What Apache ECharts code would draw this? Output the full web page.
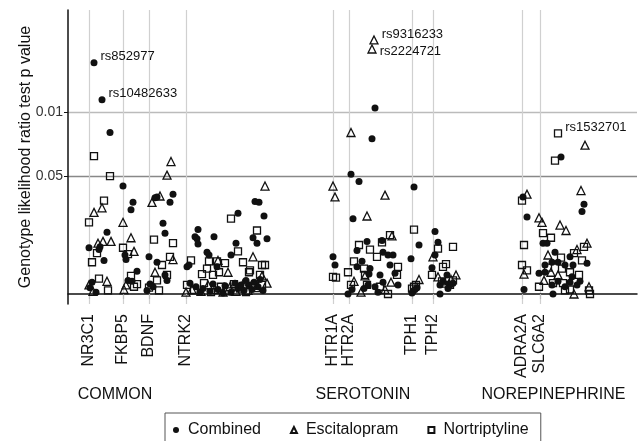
<!DOCTYPE html>
<html>
<head>
<meta charset="utf-8">
<script src="https://cdn.jsdelivr.net/npm/echarts@6/dist/echarts.min.js"></script>
<style>
  html, body { margin: 0; background: #fff; }
  #stage { width: 639px; height: 441px; }
</style>
</head>
<body>
<div id="stage"></div>
<script>
'use strict';

// genes along the x axis (position units) and the pathway groups under them
const GENES = ['NR3C1', 'FKBP5', 'BDNF', 'NTRK2', 'HTR1A', 'HTR2A', 'TPH1', 'TPH2', 'ADRA2A', 'SLC6A2'];
const genePos = [21, 55, 81, 118, 265, 281, 344, 365, 454, 472];
const GROUPS = ['COMMON', 'SEROTONIN', 'NOREPINEPHRINE'];
const groupPos = [47, 295, 485.5];

// y is -log10(p); only two p values are marked
const pTicks = [1.301, 2];
const pTickLabels = ['0.05', '0.01'];

// [position, -log10 p]; the first points of each list carry the SNP names below
const combined = [
  [26, 2.55], [34, 2.14],
  [42, 1.78], [39, 0.68], [21, 0.51], [31, 0.49], [32, 0.52], [36, 0.37], [24, 0.13], [22, 0.07], [28, 0.02],
  [55, 1.19], [65, 1.01], [63, 0.93], [57, 0.43], [58, 0.38], [69, 0.25], [60, 0.15], [64, 0.14],
  [87, 1.06], [89, 1.07], [105, 1.10], [102, 1.01], [95, 0.78], [97, 0.67], [81, 0.41], [89, 0.35], [97, 0.21],
  [82, 0.11], [85, 0.08], [99, 0.15], [79, 0.04],
  [130, 0.71], [127, 0.63], [129, 0.61], [146, 0.63], [170, 0.89], [187, 1.02], [185, 0.62], [130, 0.55],
  [168, 0.56], [139, 0.46], [141, 0.43], [163, 0.43], [119, 0.30], [121, 0.32], [149, 0.30], [191, 1.01],
  [196, 0.86], [199, 0.61], [189, 0.56], [195, 0.04], [122, 0.12], [128, 0.08], [135, 0.06], [142, 0.03],
  [150, 0.05], [157, 0.09], [163, 0.02], [170, 0.06], [176, 0.04], [181, 0.10], [186, 0.13], [190, 0.08],
  [145, 0.11], [132, 0.02], [167, 0.12], [178, 0.15], [184, 0.05], [192, 0.16], [155, 0.01], [173, 0.10],
  [265, 0.41], [267, 0.32],
  [307, 2.05], [304, 1.71], [283, 1.32], [291, 1.24], [285, 0.83], [299, 0.58], [289, 0.48], [294, 0.36],
  [289, 0.30], [302, 0.28], [301, 0.22], [280, 0.00], [312, 0.21], [315, 0.46], [314, 0.59], [320, 0.43],
  [325, 0.43], [322, 0.32], [327, 0.23], [315, 0.13], [330, 0.10], [307, 0.08], [300, 0.10], [284, 0.05],
  [296, 0.06], [310, 0.02],
  [346, 1.18], [351, 0.54], [343, 0.39], [345, 0.03], [347, 0.05], [349, 0.07], [344, 0.01],
  [367, 0.69], [370, 0.57], [367, 0.43], [364, 0.29], [379, 0.21], [372, 0.10], [372, 0.00], [380, 0.06],
  [382, 0.10], [375, 0.14], [385, 0.12],
  [455, 1.07], [459, 0.85], [456, 0.05],
  [493, 1.51], [475, 0.56], [479, 0.56], [516, 0.99], [514, 0.91], [487, 0.46], [502, 0.41], [519, 0.34],
  [477, 0.32], [484, 0.35], [490, 0.35], [497, 0.32], [505, 0.32], [477, 0.24], [471, 0.23], [504, 0.19],
  [484, 0.10], [490, 0.14], [497, 0.08], [502, 0.13], [509, 0.10], [512, 0.14], [485, 0.00]
];
const combinedSnps = ['rs852977', 'rs10482633'];

const escitalopram = [
  [306, 2.80], [304, 2.70],
  [26, 0.90], [34, 0.95], [30, 0.56], [35, 0.58], [43, 0.58], [39, 0.14], [21, 0.10], [25, 0.03],
  [55, 0.79], [63, 0.62], [66, 0.47], [58, 0.10], [56, 0.05],
  [103, 1.46], [99, 1.31], [84, 1.01], [92, 1.08], [105, 0.38], [87, 0.24],
  [160, 0.24], [185, 0.41], [197, 1.19], [194, 0.20], [150, 0.37], [118, 0.02], [124, 0.05], [133, 0.03],
  [140, 0.10], [147, 0.05], [155, 0.02], [162, 0.08], [168, 0.03], [175, 0.11], [180, 0.04], [188, 0.07],
  [199, 0.12],
  [265, 1.19], [267, 1.07],
  [283, 1.78], [317, 1.09], [299, 0.86], [324, 0.64], [286, 0.14], [293, 0.02], [323, 0.13], [297, 0.20],
  [317, 0.05],
  [351, 0.16],
  [365, 0.41], [370, 0.19], [388, 0.21], [376, 0.12], [383, 0.16],
  [459, 1.10], [456, 0.22],
  [517, 1.64], [513, 1.14], [471, 0.84], [474, 0.79], [492, 0.76], [498, 0.70], [519, 0.56], [480, 0.43],
  [509, 0.49], [483, 0.24], [490, 0.21], [476, 0.15], [506, 0.00], [521, 0.08]
];
const escitalopramSnps = ['rs9316233', 'rs2224721'];

const nortriptyline = [
  [490, 1.77],
  [26, 1.52], [42, 1.30], [36, 1.03], [21, 0.79], [29, 0.45], [24, 0.35], [31, 0.17], [40, 0.04],
  [55, 0.51], [60, 0.44], [63, 0.20], [69, 0.11], [66, 0.08],
  [86, 0.60], [105, 0.56], [94, 0.32], [102, 0.41], [99, 0.21], [89, 0.15], [81, 0.07], [91, 0.04],
  [163, 0.83], [170, 0.47], [189, 0.70], [123, 0.37], [141, 0.36], [149, 0.36], [157, 0.34], [175, 0.35],
  [139, 0.28], [145, 0.21], [134, 0.22], [151, 0.24], [181, 0.24], [197, 0.32], [194, 0.32], [192, 0.21],
  [194, 0.10], [182, 0.26], [119, 0.10], [126, 0.04], [136, 0.12], [143, 0.02], [153, 0.08], [160, 0.03],
  [166, 0.11], [172, 0.06], [178, 0.02], [186, 0.09],
  [265, 0.19], [268, 0.18],
  [291, 0.54], [286, 0.36], [280, 0.24], [296, 0.28], [297, 0.21], [283, 0.10], [299, 0.10], [302, 0.49],
  [309, 0.41], [314, 0.57], [322, 0.65], [330, 0.30], [329, 0.21], [312, 0.08], [320, 0.00],
  [346, 0.71], [344, 0.06], [346, 0.08], [348, 0.10],
  [370, 0.50], [385, 0.52], [378, 0.33], [375, 0.30], [364, 0.21], [374, 0.14], [382, 0.10], [385, 0.15],
  [454, 1.03], [456, 0.54], [454, 0.32], [459, 0.26],
  [487, 1.47], [475, 0.67], [483, 0.62], [516, 0.52], [493, 0.40], [506, 0.45], [514, 0.37], [480, 0.29],
  [494, 0.28], [502, 0.24], [511, 0.21], [471, 0.08], [485, 0.12], [495, 0.12], [502, 0.05], [497, 0.04],
  [521, 0.04], [522, 0.00]
];
const nortriptylineSnps = ['rs1532701'];

const FONT = '"Liberation Sans", Arial, sans-serif';
const INK = '#111';

// attach the SNP name label to the first points of a list
function withSnps(points, snps) {
  return points.map(function (p, i) {
    if (i >= snps.length) return p;
    return {
      value: p,
      label: {
        show: true,
        formatter: snps[i],
        position: 'right',
        distance: 3,
        offset: snps[i] === 'rs2224721' ? [0, 2] : [0, -6],
        fontFamily: FONT,
        fontSize: 13,
        color: INK
      }
    };
  });
}

const myChart = echarts.init(document.getElementById('stage'));

const hollow = { color: 'rgba(255,255,255,0)', borderColor: INK, borderWidth: 1.3, opacity: 1 };

const option = {
  animation: false,
  textStyle: { fontFamily: FONT },
  grid: { left: 68, right: 2, top: 10, bottom: 137 },
  xAxis: [
    {
      type: 'value',
      min: 0,
      max: 569,
      axisLine: { show: true, lineStyle: { color: INK, width: 1.5 } },
      axisTick: { show: true, customValues: genePos, length: 5, lineStyle: { color: '#bbb', width: 1.2 } },
      axisLabel: {
        customValues: genePos,
        rotate: 90,
        margin: 10,
        fontSize: 16,
        color: INK,
        formatter: function (v) { return GENES[genePos.indexOf(v)]; }
      },
      splitLine: { show: true, lineStyle: { color: '#d0d0d0', width: 1.2 } }
    },
    {
      type: 'value',
      min: 0,
      max: 569,
      position: 'bottom',
      axisLine: { show: false },
      axisTick: { show: false },
      splitLine: { show: false },
      axisLabel: {
        customValues: groupPos,
        margin: 83,
        fontSize: 16,
        color: INK,
        formatter: function (v) { return GROUPS[groupPos.indexOf(v)]; }
      }
    }
  ],
  yAxis: {
    type: 'value',
    min: -0.11,
    max: 3.13,
    name: 'Genotype likelihood ratio test p value',
    nameLocation: 'middle',
    nameGap: 34,
    nameMoveOverlap: false,
    nameTextStyle: { fontSize: 16, color: INK },
    axisLine: { show: true, lineStyle: { color: INK, width: 1.5 } },
    axisTick: { show: true, customValues: pTicks, length: 4, lineStyle: { color: INK } },
    axisLabel: {
      customValues: pTicks,
      margin: 5,
      fontSize: 14,
      color: '#333',
      formatter: function (v) { return pTickLabels[pTicks.indexOf(v)]; }
    },
    splitLine: { show: true, lineStyle: { color: ['#888', '#bbb'], width: 1.3 } }
  },
  legend: {
    data: ['Combined', 'Escitalopram', 'Nortriptyline'],
    left: 165,
    top: 413,
    orient: 'horizontal',
    borderColor: '#555',
    borderWidth: 1,
    padding: [9, 12, 12, 8],
    itemGap: 29,
    itemWidth: 6,
    itemHeight: 6,
    textStyle: { fontSize: 16, color: INK, padding: [0, 0, 0, 4] }
  },
  series: [
    {
      name: 'Combined',
      type: 'scatter',
      symbol: 'circle',
      symbolSize: 7,
      itemStyle: { color: INK, opacity: 1 },
      emphasis: { disabled: true },
      data: withSnps(combined, combinedSnps)
    },
    {
      name: 'Escitalopram',
      type: 'scatter',
      symbol: 'triangle',
      symbolSize: 8,
      itemStyle: hollow,
      emphasis: { disabled: true },
      data: withSnps(escitalopram, escitalopramSnps)
    },
    {
      name: 'Nortriptyline',
      type: 'scatter',
      symbol: 'rect',
      symbolSize: 7,
      itemStyle: hollow,
      emphasis: { disabled: true },
      data: withSnps(nortriptyline, nortriptylineSnps)
    }
  ]
};

myChart.setOption(option);
</script>
</body>
</html>
